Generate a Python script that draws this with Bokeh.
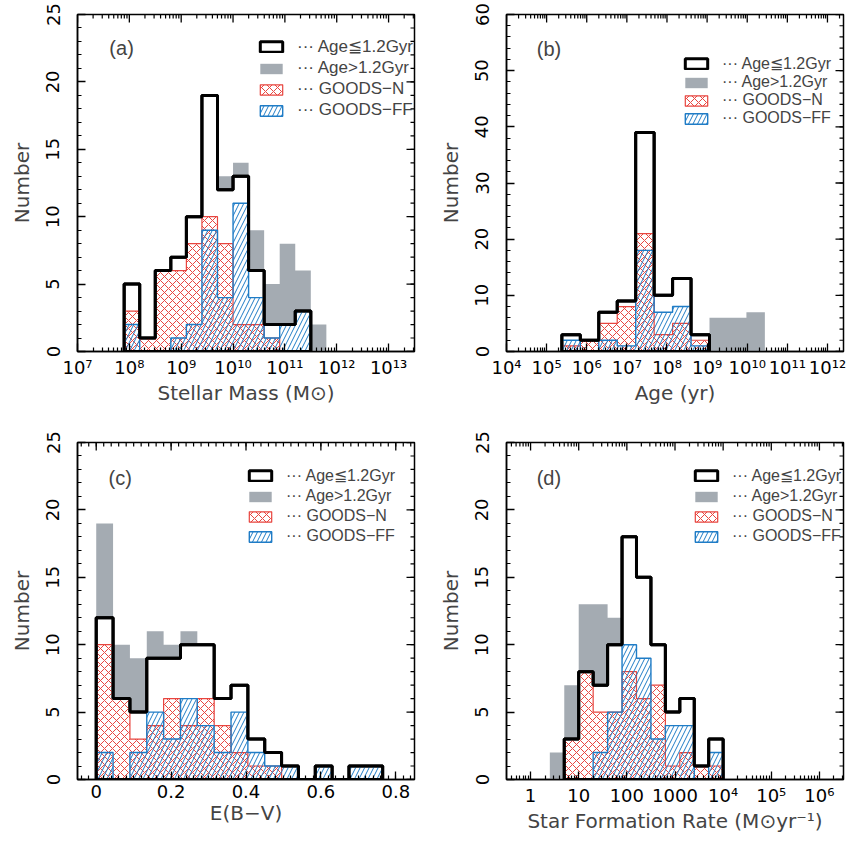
import math
from bokeh.plotting import figure
from bokeh.models import FixedTicker, Range1d, Legend, LegendItem, Label
from bokeh.layouts import column, row
from bokeh.embed import file_html
from bokeh.resources import INLINE

FONT = "Liberation Sans"
TFONT = "DejaVu Sans"
GRAY = "#a4abb2"
RED = "#e8453f"
BLUE = "#1f7cc6"

# ---------------- data (bin edges in log10 units where the axis is logarithmic) ----
# (a) Stellar mass, log10(M/Msun)
mass_edges = [7.9, 8.2, 8.5, 8.8, 9.1, 9.4, 9.7, 10.0, 10.3, 10.6, 10.9, 11.2, 11.5, 11.8]
mass_all = [5, 1, 6, 7, 10, 19, 13, 14, 9, 5, 8, 6, 2]
mass_young = [5, 1, 6, 7, 10, 19, 12, 13, 6, 2, 2, 3, 0]
mass_goodsn = [3, 1, 6, 6, 8, 10, 8, 2, 2, 1, 0, 0, 0]
mass_goodsff = [2, 0, 0, 1, 2, 9, 4, 11, 4, 1, 2, 3, 0]

# (b) Age, log10(yr)
age_edges = [5.38, 5.84, 6.3, 6.76, 7.22, 7.68, 8.14, 8.6, 9.06, 9.52, 9.98, 10.44]
age_all = [3, 2, 7, 9, 39, 10, 13, 3, 6, 6, 7]
age_young = [3, 2, 7, 9, 39, 10, 13, 3, 0, 0, 0]
age_goodsn = [1, 2, 5, 8, 21, 3, 5, 2, 0, 0, 0]
age_goodsff = [2, 0, 2, 1, 18, 7, 8, 1, 0, 0, 0]

# (c) E(B-V)
ebv_edges = [0.0, 0.045, 0.09, 0.135, 0.18, 0.225, 0.27, 0.315, 0.36, 0.405,
             0.45, 0.495, 0.54, 0.585, 0.63, 0.675, 0.72, 0.765]
ebv_all = [19, 10, 9, 11, 10, 11, 10, 6, 7, 3, 2, 1, 0, 1, 0, 1, 1]
ebv_young = [12, 6, 5, 9, 9, 10, 10, 6, 7, 3, 2, 1, 0, 1, 0, 1, 1]
ebv_goodsn = [10, 6, 3, 4, 6, 4, 6, 4, 2, 1, 1, 0, 0, 0, 0, 0, 0]
ebv_goodsff = [2, 0, 2, 5, 3, 6, 4, 2, 5, 2, 1, 1, 0, 1, 0, 1, 1]

# (d) Star formation rate, log10(Msun/yr)
sfr_edges = [0.4, 0.7, 1.0, 1.3, 1.6, 1.9, 2.2, 2.5, 2.8, 3.1, 3.4, 3.7, 4.0]
sfr_all = [2, 7, 13, 13, 12, 18, 15, 10, 5, 6, 1, 3]
sfr_young = [0, 3, 8, 7, 10, 18, 15, 10, 5, 6, 1, 3]
sfr_goodsn = [0, 3, 8, 5, 5, 8, 6, 7, 1, 2, 1, 1]
sfr_goodsff = [0, 0, 0, 2, 5, 10, 9, 3, 4, 4, 0, 2]

LEGEND_LABELS = ["··· Age≦1.2Gyr", "··· Age>1.2Gyr", "··· GOODS−N", "··· GOODS−FF"]

mass_ticks = [7, 8, 9, 10, 11, 12, 13]
mass_tick_labels = ["10⁷", "10⁸", "10⁹", "10¹⁰", "10¹¹", "10¹²", "10¹³"]
age_ticks = [4, 5, 6, 7, 8, 9, 10, 11, 12]
age_tick_labels = ["10⁴", "10⁵", "10⁶", "10⁷", "10⁸", "10⁹", "10¹⁰", "10¹¹", "10¹²"]
ebv_ticks = [0, 0.2, 0.4, 0.6, 0.8]
ebv_tick_labels = ["0", "0.2", "0.4", "0.6", "0.8"]
sfr_ticks = [0, 1, 2, 3, 4, 5, 6]
sfr_tick_labels = ["1", "10", "100", "1000", "10⁴", "10⁵", "10⁶"]


def log_minor(lo, hi):
    out = []
    for n in range(math.floor(lo) - 1, math.ceil(hi) + 1):
        for k in range(2, 10):
            v = n + math.log10(k)
            if lo < v < hi:
                out.append(v)
    return out


def lin_minor(lo, hi, step):
    out = []
    i = math.ceil(lo / step)
    while i * step < hi:
        out.append(round(i * step, 6))
        i += 1
    return out


def outline(edges, counts):
    nz = [i for i, c in enumerate(counts) if c > 0]
    i0, i1 = nz[0], nz[-1]
    xs, ys = [edges[i0]], [0]
    for i in range(i0, i1 + 1):
        xs += [edges[i], edges[i + 1]]
        ys += [counts[i], counts[i]]
    xs.append(edges[i1 + 1])
    ys.append(0)
    return xs, ys


def style_axis(ax, major, minor, labels=None, vertical=False):
    ax.ticker = FixedTicker(ticks=major, minor_ticks=minor)
    ax.major_tick_in = 8
    ax.major_tick_out = 0
    ax.minor_tick_in = 4
    ax.minor_tick_out = 0
    ax.axis_line_width = 1.5
    ax.axis_line_color = "black"
    ax.major_tick_line_width = 1.3
    ax.minor_tick_line_width = 1.2
    ax.major_tick_line_color = "black"
    ax.minor_tick_line_color = "black"
    ax.major_label_text_font = TFONT
    ax.major_label_text_font_size = "18px"
    ax.major_label_text_color = "black"
    if labels is not None:
        ax.major_label_overrides = dict(zip(major, labels))
    if vertical:
        ax.major_label_orientation = "vertical"
        ax.major_label_standoff = 18
    else:
        ax.major_label_standoff = 5


def panel(tag, edges, allv, young, gn, gff, xr, yr, xmaj, xmin, xlabels, ymaj, ymin,
          xtitle, width, height, left, right, top, bottom, tag_xy, leg_loc,
          leg_font, leg_spacing):
    p = figure(width=width, height=height, x_range=Range1d(*xr), y_range=Range1d(*yr),
               output_backend="svg", toolbar_location=None,
               min_border_left=left, min_border_right=right,
               min_border_top=top, min_border_bottom=bottom)
    p.xgrid.visible = False
    p.ygrid.visible = False
    p.outline_line_color = "black"
    p.outline_line_width = 1.5
    p.background_fill_color = "white"
    p.border_fill_color = "white"

    xa = p.xaxis[0]
    style_axis(xa, xmaj, xmin, xlabels)
    xa.axis_label = xtitle
    xa.axis_label_text_font = TFONT
    xa.axis_label_text_font_size = "20px"
    xa.axis_label_text_font_style = "normal"
    xa.axis_label_standoff = 0

    ya = p.yaxis[0]
    style_axis(ya, ymaj, ymin, None, vertical=True)
    ya.axis_label = "Number"
    ya.axis_label_text_font = TFONT
    ya.axis_label_text_font_size = "20px"
    ya.axis_label_text_font_style = "normal"
    ya.axis_label_standoff = 10

    # inward ticks on the top and right sides of the frame
    p.ray(x=xmaj, y=[yr[1]] * len(xmaj), length=8, length_units="screen",
          angle=-math.pi / 2, line_color="black", line_width=1.3)
    p.ray(x=xmin, y=[yr[1]] * len(xmin), length=4, length_units="screen",
          angle=-math.pi / 2, line_color="black", line_width=1.2)
    p.ray(x=[xr[1]] * len(ymaj), y=ymaj, length=8, length_units="screen",
          angle=math.pi, line_color="black", line_width=1.3)
    p.ray(x=[xr[1]] * len(ymin), y=ymin, length=4, length_units="screen",
          angle=math.pi, line_color="black", line_width=1.2)

    gx, gy = outline(edges, allv)
    r_gray = p.patch(gx, gy, fill_color=GRAY, line_color=None)
    yx, yy = outline(edges, young)
    r_young = p.patch(yx, yy, fill_color="white", line_color="black", line_width=3)
    nx, ny = outline(edges, gn)
    r_n = p.patch(nx, ny, fill_color=None, line_color=RED, line_width=1.2,
                  hatch_pattern="x", hatch_color=RED, hatch_scale=8, hatch_weight=1)
    fx, fy = outline(edges, gff)
    r_f = p.patch(fx, fy, fill_color=None, line_color=BLUE, line_width=1.4,
                  hatch_pattern="/", hatch_color=BLUE, hatch_scale=9, hatch_weight=1)
    p.patch(yx, yy, fill_color=None, line_color="black", line_width=3)

    legend = Legend(
        items=[LegendItem(label=LEGEND_LABELS[0], renderers=[r_young]),
               LegendItem(label=LEGEND_LABELS[1], renderers=[r_gray]),
               LegendItem(label=LEGEND_LABELS[2], renderers=[r_n]),
               LegendItem(label=LEGEND_LABELS[3], renderers=[r_f])],
        location=leg_loc, glyph_width=28, glyph_height=13, label_standoff=12,
        spacing=leg_spacing, padding=0, margin=0, border_line_color=None,
        background_fill_alpha=0, label_text_font=FONT,
        label_text_font_size=leg_font, label_height=13)
    p.add_layout(legend)

    p.add_layout(Label(x=tag_xy[0], y=tag_xy[1], text=tag, text_align="center",
                       text_baseline="middle", text_font=FONT, text_font_size="20px"))
    return p


pa = panel("(a)", mass_edges, mass_all, mass_young, mass_goodsn, mass_goodsff,
           (7.0, 13.5), (0, 25), mass_ticks, log_minor(7.0, 13.5), mass_tick_labels,
           [0, 5, 10, 15, 20, 25], list(range(0, 26)), "Stellar Mass (M⊙)",
           428, 428, 77, 14, 14, 77, (7.85, 22.5), (180, 231), "17px", 1)
pb = panel("(b)", age_edges, age_all, age_young, age_goodsn, age_goodsff,
           (4.0, 12.4), (0, 60), age_ticks, log_minor(4.0, 12.4), age_tick_labels,
           [0, 10, 20, 30, 40, 50, 60], list(range(0, 61, 2)), "Age (yr)",
           421, 428, 78, 6, 14, 77, (5.06, 53.9), (176, 224), "16px", -1)
pc = panel("(c)", ebv_edges, ebv_all, ebv_young, ebv_goodsn, ebv_goodsff,
           (-0.05, 0.85), (0, 25), ebv_ticks, lin_minor(-0.05, 0.85, 0.02), ebv_tick_labels,
           [0, 5, 10, 15, 20, 25], list(range(0, 26)), "E(B−V)",
           428, 424, 77, 14, 14, 73, (0.064, 22.4), (169, 234), "16px", 2)
pd = panel("(d)", sfr_edges, sfr_all, sfr_young, sfr_goodsn, sfr_goodsff,
           (-0.5, 6.5), (0, 25), sfr_ticks, log_minor(-0.5, 6.5), sfr_tick_labels,
           [0, 5, 10, 15, 20, 25], list(range(0, 26)), "Star Formation Rate (M⊙yr⁻¹)",
           421, 424, 78, 6, 14, 73, (0.38, 22.4), (186, 234), "16px", 2)

layout = column(row(pa, pb), row(pc, pd))
open("out.html", "w").write(file_html(layout, INLINE))
